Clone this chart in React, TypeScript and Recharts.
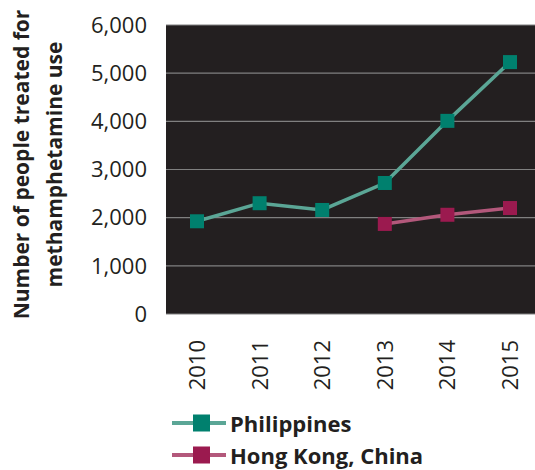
import { LineChart, Line, XAxis, YAxis, CartesianGrid } from "recharts";

const years = ["2010", "2011", "2012", "2013", "2014", "2015"];
const philippines = [1925, 2300, 2160, 2720, 4010, 5230];
const hongKong = [null, null, null, 1870, 2060, 2200];
const yTicks = [0, 1000, 2000, 3000, 4000, 5000, 6000];
const yTitleLines = ["Number of people treated for", "methamphetamine use"];

const SERIES = [
  { key: "philippines", name: "Philippines", line: "#5ba696", marker: "#00806e" },
  { key: "hongKong", name: "Hong Kong, China", line: "#b3587b", marker: "#9b1a4f" },
];

const FONT = "'Open Sans', 'Noto Sans', sans-serif";
const TEXT = "#231f20";

const data = years.map((year, i) => ({
  year,
  philippines: philippines[i],
  hongKong: hongKong[i],
}));

function squareDot(color: string) {
  return (props: any) => {
    const { cx, cy, index } = props;
    if (cx == null || cy == null || props.value == null) return <g key={`d-${index}`} />;
    return <rect key={`d-${index}`} x={cx - 7} y={cy - 7} width={14} height={14} fill={color} />;
  };
}

function YearTick({ x, y, payload }: any) {
  return (
    <g transform={`translate(${x},${y})`}>
      <text
        transform="rotate(-90)"
        x={-18}
        dy="0.36em"
        textAnchor="end"
        fill={TEXT}
        fontSize={22}
        fontFamily={FONT}
      >
        {payload.value}
      </text>
    </g>
  );
}

function YTitle({ viewBox }: any) {
  const cy = viewBox.y + viewBox.height / 2 - 5;
  const xs = [29, 62];
  return (
    <g>
      {yTitleLines.map((line, i) => (
        <text
          key={line}
          transform={`translate(${xs[i]},${cy}) rotate(-90)`}
          textAnchor="middle"
          fill={TEXT}
          fontSize={21}
          fontWeight="bold"
          fontFamily={FONT}
        >
          {line}
        </text>
      ))}
    </g>
  );
}

function ChartLegend() {
  return (
    <div style={{ position: "absolute", left: 172, top: 407 }}>
      {SERIES.map((s) => (
        <div key={s.key} style={{ display: "flex", alignItems: "center", height: 32 }}>
          <svg width={54} height={20} style={{ display: "block" }}>
            <line x1={0} y1={10} x2={54} y2={10} stroke={s.line} strokeWidth={4} strokeLinecap="round" />
            <rect x={21} y={1.5} width={17} height={17} fill={s.marker} />
          </svg>
          <span
            style={{
              marginLeft: 4,
              fontFamily: FONT,
              fontWeight: "bold",
              fontSize: 22,
              color: TEXT,
              lineHeight: "28px",
            }}
          >
            {s.name}
          </span>
        </div>
      ))}
    </div>
  );
}

export default function App() {
  return (
    <div
      style={{
        position: "absolute",
        left: 0,
        top: 0,
        width: 535,
        height: 470,
        overflow: "hidden",
        background: "#fff",
      }}
    >
      <LineChart width={545} height={470} data={data} margin={{ top: 25, right: 4, bottom: 76, left: 0 }}>
        <CartesianGrid vertical={false} fill="#231f20" stroke="#808080" strokeWidth={1.2} fillOpacity={1} />
        <XAxis
          dataKey="year"
          height={80}
          axisLine={false}
          tickLine={false}
          interval={0}
          padding={{ left: 31, right: 31 }}
          tick={<YearTick />}
        />
        <YAxis
          width={166}
          domain={[0, 6000]}
          ticks={yTicks}
          axisLine={false}
          tickLine={false}
          tickMargin={13}
          tickFormatter={(v: number) => v.toLocaleString("en-US")}
          tick={{ fill: TEXT, fontSize: 22, fontFamily: FONT }}
          label={<YTitle />}
        />
        {SERIES.map((s) => (
          <Line
            key={s.key}
            dataKey={s.key}
            name={s.name}
            stroke={s.line}
            strokeWidth={3.5}
            dot={squareDot(s.marker)}
            activeDot={false}
            isAnimationActive={false}
          />
        ))}
      </LineChart>
      <ChartLegend />
    </div>
  );
}
